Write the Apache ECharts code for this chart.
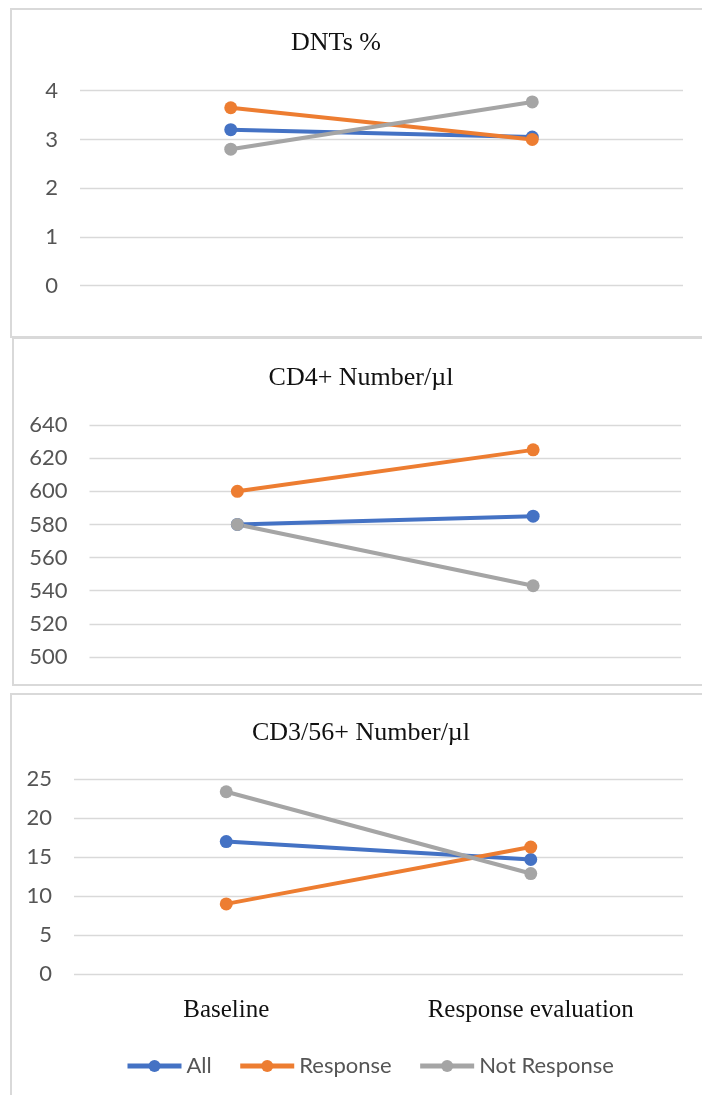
<!DOCTYPE html>
<html>
<head>
<meta charset="utf-8">
<script src="https://cdn.jsdelivr.net/npm/echarts@6/dist/echarts.min.js"></script>
<style>
  html, body { margin: 0; padding: 0; background: #ffffff; }
  #chart { width: 702px; height: 1095px; }
</style>
</head>
<body>
<div id="chart"></div>
<script>
// Time points on the x axis
const categories = ['Baseline', 'Response evaluation'];
const groupNames = ['All', 'Response', 'Not Response'];
const groupColors = ['#4472C4', '#ED7D31', '#A5A5A5'];

// DNTs %
const dntsAll = [3.2, 3.05];
const dntsResponse = [3.65, 3.0];
const dntsNotResponse = [2.8, 3.77];

// CD4+ Number/µl
const cd4All = [580, 585];
const cd4Response = [600, 625];
const cd4NotResponse = [580, 543];

// CD3/56+ Number/µl
const cd356All = [17.0, 14.7];
const cd356Response = [9.0, 16.3];
const cd356NotResponse = [23.4, 12.9];

const panelTitles = ['DNTs %', 'CD4+ Number/µl', 'CD3/56+ Number/µl'];

const chart = echarts.init(document.getElementById('chart'), null, { renderer: 'canvas' });

const serifFont = '"Liberation Serif", "DejaVu Serif", serif';
const sansFont = 'Lato, "Open Sans", sans-serif';
const gridColor = '#d9d9d9';
const labelColor = '#555555';

function yAxisFor(gridIndex, min, max, interval) {
  return {
    type: 'value', gridIndex, min, max, interval,
    axisLine: { show: false },
    axisTick: { show: false },
    axisLabel: { margin: 22, color: labelColor, fontFamily: sansFont, fontSize: 22 },
    splitLine: { lineStyle: { color: gridColor, width: 1.3 } }
  };
}

function xAxisFor(gridIndex, showLabels) {
  return {
    type: 'category', gridIndex, data: categories, boundaryGap: true,
    axisLine: { show: false },
    axisTick: { show: false },
    axisLabel: {
      show: showLabels, margin: 24, color: '#111111',
      fontFamily: serifFont, fontSize: 25
    },
    splitLine: { show: false }
  };
}

const panelData = [
  [dntsAll, dntsResponse, dntsNotResponse],
  [cd4All, cd4Response, cd4NotResponse],
  [cd356All, cd356Response, cd356NotResponse]
];

const series = [];
panelData.forEach((groups, p) => {
  groups.forEach((values, g) => {
    series.push({
      name: groupNames[g],
      type: 'line',
      xAxisIndex: p,
      yAxisIndex: p,
      data: values,
      symbol: 'circle',
      symbolSize: 13,
      lineStyle: { width: 4, color: groupColors[g] },
      itemStyle: { color: groupColors[g] },
      emphasis: { disabled: true }
    });
  });
});

const titleCenters = [[336, 43], [361, 378], [361, 733]];

const option = {
  backgroundColor: '#ffffff',
  animation: false,
  grid: [
    { left: 80, right: 19, top: 90.7, height: 195 },
    { left: 89.5, right: 21, top: 425, height: 232 },
    { left: 74, right: 19, top: 779.3, height: 194.7 }
  ],
  xAxis: [xAxisFor(0, false), xAxisFor(1, false), xAxisFor(2, true)],
  yAxis: [yAxisFor(0, 0, 4, 1), yAxisFor(1, 500, 640, 20), yAxisFor(2, 0, 25, 5)],
  legend: {
    data: groupNames,
    left: 120,
    top: 1050,
    itemWidth: 54,
    itemHeight: 15,
    itemGap: 26,
    lineStyle: { width: 5 },
    textStyle: { color: labelColor, fontFamily: sansFont, fontSize: 22 }
  },
  graphic: [
    // panel frames
    { type: 'rect', shape: { x: 11, y: 9, width: 720, height: 328 },
      style: { fill: 'none', stroke: gridColor, lineWidth: 2 }, silent: true, z: -1 },
    { type: 'rect', shape: { x: 13, y: 338, width: 720, height: 347 },
      style: { fill: 'none', stroke: gridColor, lineWidth: 2 }, silent: true, z: -1 },
    { type: 'rect', shape: { x: 11, y: 694, width: 720, height: 430 },
      style: { fill: 'none', stroke: gridColor, lineWidth: 2 }, silent: true, z: -1 }
  ].concat(panelTitles.map((t, i) => ({
    type: 'text',
    x: titleCenters[i][0],
    y: titleCenters[i][1],
    silent: true,
    style: {
      text: t, fill: '#111111', font: '26px ' + serifFont,
      textAlign: 'center', textVerticalAlign: 'middle'
    }
  }))),
  series
};

chart.setOption(option);
</script>
</body>
</html>
